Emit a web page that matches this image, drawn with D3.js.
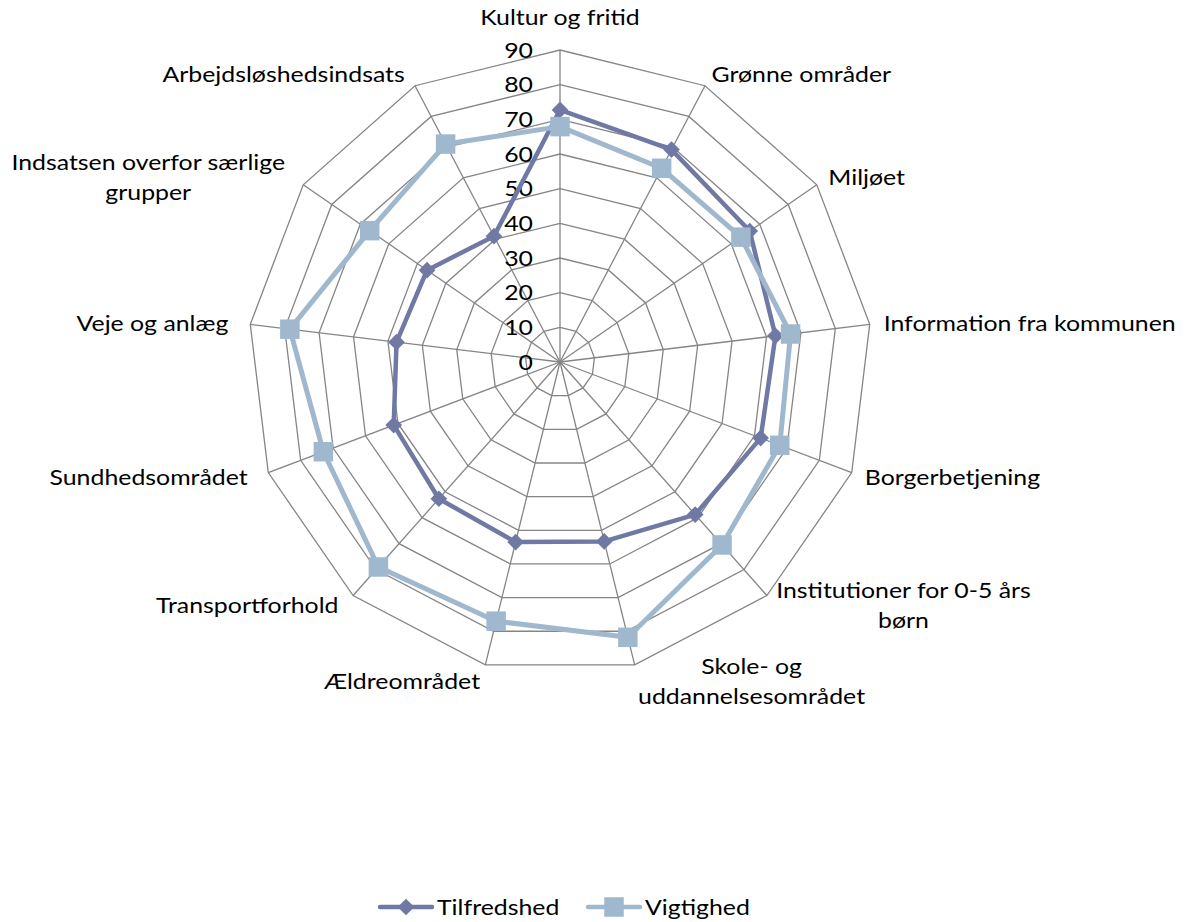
<!DOCTYPE html>
<html>
<head>
<meta charset="utf-8">
<script src="https://cdn.jsdelivr.net/npm/d3@7"></script>
<style>
  html, body { margin: 0; padding: 0; background: #fff; }
  svg { display: block; }
  text { font-family: Lato, "Open Sans", sans-serif; fill: #000; }
</style>
</head>
<body>
<svg id="chart" width="1196" height="922"></svg>
<script>
const categories = [
  "Kultur og fritid", "Grønne områder", "Miljøet", "Information fra kommunen",
  "Borgerbetjening", "Institutioner for 0-5 års børn", "Skole- og uddannelsesområdet",
  "Ældreområdet", "Transportforhold", "Sundhedsområdet", "Veje og anlæg",
  "Indsatsen overfor særlige grupper", "Arbejdsløshedsindsats"
];
const labelLines = [
  ["Kultur og fritid"], ["Grønne områder"], ["Miljøet"], ["Information fra kommunen"],
  ["Borgerbetjening"], ["Institutioner for 0-5 års", "børn"], ["Skole- og", "uddannelsesområdet"],
  ["Ældreområdet"], ["Transportforhold"], ["Sundhedsområdet"], ["Veje og anlæg"],
  ["Indsatsen overfor særlige", "grupper"], ["Arbejdsløshedsindsats"]
];
const tilfredshed = [72.7, 69.2, 66.5, 62.6, 61.9, 58.8, 53.3, 53.5, 52.7, 51.3, 47.5, 46.6, 41.0];
const vigtighed   = [67.9, 63.1, 63.4, 67.0, 67.8, 70.5, 81.8, 77.0, 79.0, 73.0, 78.5, 66.7, 71.0];
const ticks = [0, 10, 20, 30, 40, 50, 60, 70, 80, 90];
const seriesNames = ["Tilfredshed", "Vigtighed"];

const cx = 560, cy = 362, R = 312;
const colors = { Tilfredshed: "#7079a4", Vigtighed: "#9fb8ce" };
const gridColor = "#858585";
const fontSize = 22;
const sx = 1.13; // horizontal text stretch to match the reference face

const svg = d3.select("#chart");
const g = svg.append("g").attr("transform", `translate(${cx},${cy})`);

const r = d3.scaleLinear().domain([0, 90]).range([0, R]);
const n = categories.length;
const angle = d3.scaleLinear().domain([0, n]).range([0, 2 * Math.PI]);
const pt = (i, v) => [Math.sin(angle(i)) * r(v), -Math.cos(angle(i)) * r(v)];

function addText(parent, x, y, anchor) {
  return parent.append("g").attr("transform", `translate(${x},${y}) scale(${sx},1)`)
    .append("text").attr("text-anchor", anchor).attr("dy", "0.35em").attr("font-size", fontSize);
}

// rings
ticks.filter(t => t > 0).forEach(t => {
  g.append("polygon")
    .attr("points", categories.map((c, i) => pt(i, t).join(",")).join(" "))
    .attr("fill", "none").attr("stroke", gridColor).attr("stroke-width", 1.3);
});
// spokes
categories.forEach((c, i) => {
  const [x, y] = pt(i, 90);
  g.append("line").attr("x1", 0).attr("y1", 0).attr("x2", x).attr("y2", y)
    .attr("stroke", gridColor).attr("stroke-width", 1.3);
});
// tick labels
ticks.forEach(t => {
  addText(g, -27, -r(t), "end").text(t);
});

// series
const line = d3.line().curve(d3.curveLinearClosed);
function markerPath(type) {
  return type === "diamond" ? d3.symbol().type(d3.symbolSquare).size(140)()
                            : d3.symbol().type(d3.symbolSquare).size(380)();
}
function markerTransform(type, x, y) {
  return `translate(${x},${y})` + (type === "diamond" ? " rotate(45)" : "");
}
function drawSeries(name, values, type, width) {
  const pts = values.map((v, i) => pt(i, v));
  g.append("path").attr("d", line(pts)).attr("fill", "none")
    .attr("stroke", colors[name]).attr("stroke-width", width).attr("stroke-linejoin", "round");
  g.selectAll(null).data(pts).enter().append("path")
    .attr("d", markerPath(type))
    .attr("transform", d => markerTransform(type, d[0], d[1]))
    .attr("fill", colors[name]);
}
drawSeries("Tilfredshed", tilfredshed, "diamond", 4.5);
drawSeries("Vigtighed", vigtighed, "square", 5);

// category labels
const lineH = 30;
categories.forEach((c, i) => {
  const a = angle(i);
  const s = Math.sin(a), co = Math.cos(a);
  const [vx, vy] = pt(i, 90);
  const lines = labelLines[i];
  const grp = g.append("g");
  const inner = grp.append("g");
  const t = inner.append("text").attr("font-size", fontSize).attr("text-anchor", "middle");
  const tsp = lines.map(l => t.append("tspan").text(l));
  const w = d3.max(tsp.map(ts => ts.node().getComputedTextLength())) * sx;
  const h = lines.length * lineH;
  let left, centerY;
  if (s > 0.1) left = vx + 14 * s;
  else if (s < -0.1) left = vx + 22 * s - w;
  else left = vx - w / 2;
  if (co > 0.95) centerY = vy - 18 - h / 2;
  else if (co < -0.95) centerY = vy + 16;
  else centerY = vy - 13 * co;
  const top = centerY - h / 2;
  tsp.forEach((ts, k) => {
    ts.attr("x", 0).attr("y", lineH * k + lineH / 2).attr("dy", "0.35em");
  });
  grp.attr("transform", `translate(${left + w / 2},${top})`);
  inner.attr("transform", `scale(${sx},1)`);
});

// legend
const legend = svg.append("g").attr("transform", "translate(0,907)");
const legendItems = [
  { name: "Tilfredshed", x: 380, type: "diamond" },
  { name: "Vigtighed", x: 588, type: "square" }
];
legendItems.forEach(it => {
  legend.append("line").attr("x1", it.x).attr("x2", it.x + 52).attr("y1", 0).attr("y2", 0)
    .attr("stroke", colors[it.name]).attr("stroke-width", 4.5).attr("stroke-linecap", "round");
  legend.append("path").attr("d", markerPath(it.type))
    .attr("transform", markerTransform(it.type, it.x + 26, 0)).attr("fill", colors[it.name]);
  addText(legend, it.x + 57, 0, "start").text(it.name);
});
</script>
</body>
</html>
